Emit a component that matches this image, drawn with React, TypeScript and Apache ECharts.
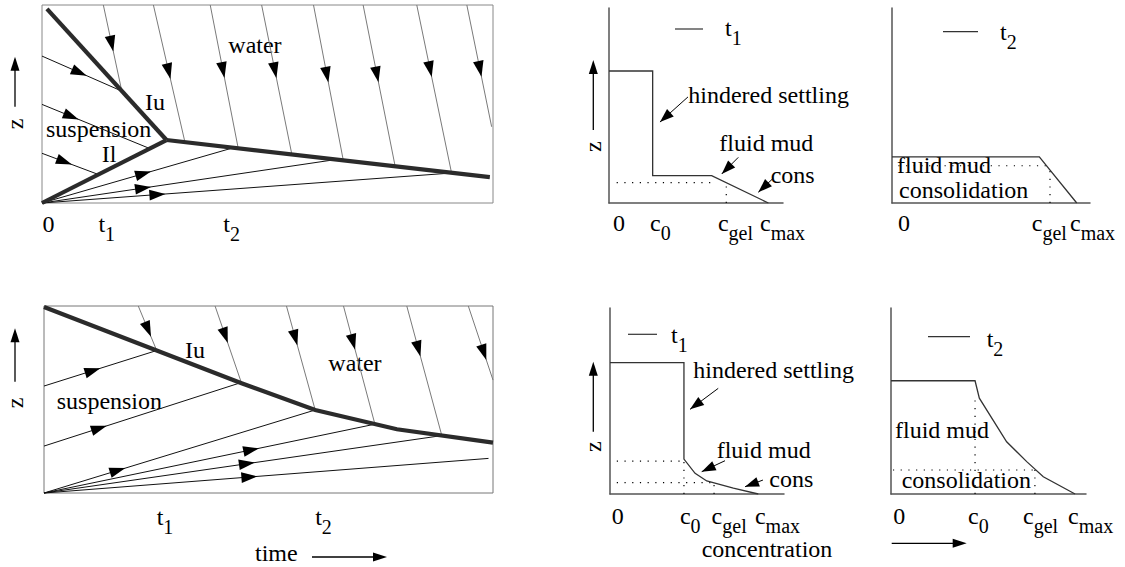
import React, { useEffect, useRef } from 'react';
import * as echarts from 'echarts';

const FONT = "'Liberation Serif', 'Times New Roman', serif";

// ---------- Panel A (top-left): time (0-100) vs z (0-100) ----------
const aUpperInterface = [[1.1, 98.0], [27.6, 31.8]];
const aLowerInterface = [[0, 0], [27.6, 31.8]];
const aBedInterface = [[27.6, 31.8], [99.3, 13.1]];
// characteristics: [t0, z0, t1, z1, arrow position along line]
const aSuspension = [
  [0, 74.2, 17.7, 56.5, 0.56],
  [0, 49.8, 23.9, 27.5, 0.34],
  [0, 25.1, 12.5, 14.4, 0.53],
];
const aFan = [
  [0, 0, 42.4, 27.9, 0.57],
  [0, 0, 65.3, 22.0, 0.37],
  [0, 0, 91.2, 15.2, 0.3],
];
const aWater = [
  [13.6, 100, 17.7, 56.5, 0.54],
  [24.7, 100, 31.7, 30.7, 0.54],
  [37.3, 100, 43.5, 27.7, 0.51],
  [48.7, 100, 55.4, 24.55, 0.49],
  [60.2, 100, 66.8, 21.6, 0.5],
  [71.2, 100, 78.3, 18.6, 0.48],
  [83.1, 100, 90.8, 15.3, 0.43],
  [94.2, 100, 99.7, 38.5, 0.59],
];
const aTicks = [0.1, 12.5, 40.2];
const aTickLabels = [['0', ''], ['t', '1'], ['t', '2']];

// ---------- Panel B (bottom-left) ----------
const bInterface = [[0, 99.5], [44.0, 58.7], [60.4, 44.4], [78.6, 34.1], [100, 26.9]];
const bSuspension = [
  [0, 57.2, 25.1, 76.2, 0.5],
  [0, 25.1, 43.7, 58.9, 0.32],
];
const bFan = [
  [0, 0, 60.4, 44.4, 0.3],
  [0, 0, 73.7, 36.8, 0.65],
  [0, 0, 88.6, 30.7, 0.53],
  [0, 0, 99.0, 18.5, 0.48],
];
const bWater = [
  [21.0, 100, 25.1, 76.2, 0.69],
  [38.1, 100, 44.0, 58.7, 0.48],
  [54.0, 100, 60.4, 44.4, 0.38],
  [66.7, 100, 73.7, 36.8, 0.37],
  [80.8, 100, 88.6, 30.7, 0.39],
  [94.5, 100, 100, 60.4, 0.73],
];
const bTicks = [25.1, 60.4];
const bTickLabels = [['t', '1'], ['t', '2']];

// ---------- Panel C (top, t1 profile): concentration vs z ----------
const cProfile = [[0, 67.7], [25.1, 67.7], [25.1, 14.0], [59.0, 14.0], [91.6, 0]];
const cDotted = [[4.4, 10.4, 58.6, 10.4, 0], [67.4, 0, 67.4, 10.4, 0]];
const cPointers = [
  [45.4, 54.4, 29.3, 41.5, 1],
  [74.3, 23.4, 64.8, 14.9, 1],
  [94.4, 12.7, 85.8, 5.5, 1],
];
const cTicks = [2.3, 23.6, 62.6, 86.8];
const cTickLabels = [['0', ''], ['c', '0'], ['c', 'gel'], ['c', 'max']];

// ---------- Panel D (top, t2 profile) ----------
const dProfile = [[0, 23.7], [74.4, 23.7], [93.3, 0]];
const dDotted = [[3.2, 19.1, 79.8, 19.1, 0], [79.8, 0, 79.8, 19.1, 0]];
const dTicks = [3.0, 70.6, 89.9];
const dTickLabels = [['0', ''], ['c', 'gel'], ['c', 'max']];

// ---------- Panel E (bottom, t1 profile) ----------
const eProfile = [[0, 70.6], [42.5, 70.6], [42.5, 18.8], [48.9, 11.1], [55.6, 7.0], [70.9, 3.1], [85.2, 0]];
const eDotted = [
  [3.9, 17.7, 42.5, 17.7, 0],
  [3.9, 6.1, 59.5, 6.1, 0],
  [42.5, 0, 42.5, 17.7, 0],
  [59.8, 0, 59.8, 6.1, 0],
];
const ePointers = [
  [62.2, 56.8, 46.0, 45.5, 1],
  [66.1, 17.9, 52.7, 12.0, 1],
  [87.9, 7.5, 77.6, 3.9, 1],
];
const eTicks = [1.0, 40.2, 58.4, 83.3];
const eTickLabels = [['0', ''], ['c', '0'], ['c', 'gel'], ['c', 'max']];

// ---------- Panel F (bottom, t2 profile) ----------
const fProfile = [[0, 60.9], [43.1, 60.9], [45.3, 51.5], [59.3, 28.1], [69.6, 17.4], [78.1, 9.3], [94.4, 0]];
const fDotted = [
  [43.1, 0, 43.1, 51.5, 0],
  [1.0, 12.9, 73.8, 12.9, 0],
  [73.8, 0, 73.8, 12.9, 0],
];
const fTicks = [1.2, 39.5, 67.7, 90.8];
const fTickLabels = [['0', ''], ['c', '0'], ['c', 'gel'], ['c', 'max']];

const MAIN = 24;
const SUB = 20;
const LH = 32;
const RICH: any = {
  m: { fontFamily: FONT, fontSize: MAIN, lineHeight: LH, verticalAlign: 'top', color: '#000' },
  s: { fontFamily: FONT, fontSize: SUB, lineHeight: LH, verticalAlign: 'bottom', color: '#000' },
};
const richText = (m: string, s: string) => (s ? `{m|${m}}{s|${s}}` : `{m|${m}}`);

function segRenderer(color: string, width: number, dash: number[] | null, head = 16, half = 5.3) {
  return (params: any, api: any) => {
    const p0 = api.coord([api.value(0), api.value(1)]);
    const p1 = api.coord([api.value(2), api.value(3)]);
    const f = api.value(4);
    const children: any[] = [
      {
        type: 'line',
        shape: { x1: p0[0], y1: p0[1], x2: p1[0], y2: p1[1] },
        style: { stroke: color, lineWidth: width, lineDash: dash || undefined, fill: null },
      },
    ];
    if (f > 0) {
      const dx = p1[0] - p0[0];
      const dy = p1[1] - p0[1];
      const L = Math.hypot(dx, dy) || 1;
      const ux = dx / L;
      const uy = dy / L;
      const tx = p0[0] + dx * f;
      const ty = p0[1] + dy * f;
      const bx = tx - ux * head;
      const by = ty - uy * head;
      children.push({
        type: 'polygon',
        shape: { points: [[tx, ty], [bx - uy * half, by + ux * half], [bx + uy * half, by - ux * half]] },
        style: { fill: '#000' },
      });
    }
    return { type: 'group', children };
  };
}

function segSeries(idx: number, data: number[][], color: string, width: number, dash: number[] | null, head?: number, half?: number) {
  return {
    type: 'custom',
    xAxisIndex: idx,
    yAxisIndex: idx,
    dimensions: ['x0', 'y0', 'x1', 'y1', 'f'],
    encode: { x: [0, 2], y: [1, 3] },
    data,
    renderItem: segRenderer(color, width, dash, head, half),
    silent: true,
    z: 2,
  };
}

function lineSeries(idx: number, data: number[][], color: string, width: number) {
  return {
    type: 'line',
    xAxisIndex: idx,
    yAxisIndex: idx,
    data,
    symbol: 'none',
    lineStyle: { color, width, join: 'miter', cap: 'butt' },
    silent: true,
    z: 3,
  };
}

function axisLabel(ticks: number[], labels: string[][], margin: number) {
  return {
    show: true,
    customValues: ticks,
    align: 'left',
    verticalAlign: 'top',
    margin,
    showMinLabel: true,
    showMaxLabel: true,
    formatter: (v: number) => {
      let best = 0;
      ticks.forEach((t, i) => {
        if (Math.abs(t - v) < Math.abs(ticks[best] - v)) best = i;
      });
      return richText(labels[best][0], labels[best][1]);
    },
    rich: RICH,
  };
}

function xAxisDef(idx: number, ticks: number[], labels: string[][], margin: number, showLine: boolean) {
  return {
    gridIndex: idx,
    type: 'value',
    min: 0,
    max: 100,
    axisLine: { show: showLine, onZero: false, lineStyle: { color: '#555', width: 1.5 } },
    axisTick: { show: false },
    splitLine: { show: false },
    axisLabel: axisLabel(ticks, labels, margin),
  };
}

function yAxisDef(idx: number, showLine: boolean) {
  return {
    gridIndex: idx,
    type: 'value',
    min: 0,
    max: 100,
    axisLine: { show: showLine, onZero: false, lineStyle: { color: '#555', width: 1.5 } },
    axisTick: { show: false },
    splitLine: { show: false },
    axisLabel: { show: false },
  };
}

// y is the text baseline
function txt(text: string, x: number, baseline: number, size = MAIN) {
  return {
    type: 'text',
    x,
    y: baseline - 0.3375 * size,
    silent: true,
    style: { text, fontFamily: FONT, fontSize: size, fill: '#000', align: 'left', verticalAlign: 'middle' },
  };
}

// baseline of the main glyph
function richLabel(m: string, s: string, x: number, baseline: number) {
  return {
    type: 'text',
    x,
    y: baseline - (MAIN / 2 + 0.3375 * MAIN),
    silent: true,
    style: { text: richText(m, s), rich: RICH, align: 'left', verticalAlign: 'top' },
  };
}

function zLabel(x: number, y: number) {
  return {
    type: 'text',
    x,
    y,
    rotation: Math.PI / 2,
    silent: true,
    style: { text: 'z', fontFamily: FONT, fontSize: MAIN, fill: '#000', align: 'center', verticalAlign: 'middle' },
  };
}

function upArrow(x: number, yTop: number, yBottom: number) {
  return [
    { type: 'line', silent: true, shape: { x1: x, y1: yBottom, x2: x, y2: yTop + 8 }, style: { stroke: '#000', lineWidth: 1.3 } },
    { type: 'polygon', silent: true, shape: { points: [[x, yTop], [x - 4.5, yTop + 14], [x + 4.5, yTop + 14]] }, style: { fill: '#000' } },
  ];
}

function rightArrow(x0: number, x1: number, y: number) {
  return [
    { type: 'line', silent: true, shape: { x1: x0, y1: y, x2: x1 - 8, y2: y }, style: { stroke: '#000', lineWidth: 1.3 } },
    { type: 'polygon', silent: true, shape: { points: [[x1, y], [x1 - 14, y - 4.5], [x1 - 14, y + 4.5]] }, style: { fill: '#000' } },
  ];
}

function legendLine(x0: number, x1: number, y: number) {
  return { type: 'line', silent: true, shape: { x1: x0, y1: y, x2: x1, y2: y }, style: { stroke: '#333', lineWidth: 1.2 } };
}

export default function App() {
  const ref = useRef<HTMLDivElement>(null);

  useEffect(() => {
    if (!ref.current) return;
    const chart = echarts.init(ref.current, undefined, { renderer: 'svg' });
    const THICK = '#2b2b2b';
    const WATER = '#7a7a7a';
    const PROFILE = '#333';

    const option: any = {
      animation: false,
      backgroundColor: '#fff',
      textStyle: { fontFamily: FONT },
      grid: [
        { left: 42, top: 5, width: 451, height: 198, show: true, borderColor: '#888', borderWidth: 1, backgroundColor: 'transparent' },
        { left: 44, top: 306, width: 449, height: 187, show: true, borderColor: '#777', borderWidth: 1, backgroundColor: 'transparent' },
        { left: 609, top: 8, width: 174, height: 195 },
        { left: 892, top: 8, width: 198, height: 195 },
        { left: 610, top: 308, width: 174, height: 186 },
        { left: 891, top: 308, width: 195, height: 186 },
      ],
      xAxis: [
        xAxisDef(0, aTicks, aTickLabels, 8.5, false),
        xAxisDef(1, bTicks, bTickLabels, 11.5, false),
        xAxisDef(2, cTicks, cTickLabels, 7.5, true),
        xAxisDef(3, dTicks, dTickLabels, 7.5, true),
        xAxisDef(4, eTicks, eTickLabels, 9.5, true),
        xAxisDef(5, fTicks, fTickLabels, 9.5, true),
      ],
      yAxis: [
        yAxisDef(0, false),
        yAxisDef(1, false),
        yAxisDef(2, true),
        yAxisDef(3, true),
        yAxisDef(4, true),
        yAxisDef(5, true),
      ],
      series: [
        // panel A
        segSeries(0, aWater, WATER, 1, null),
        segSeries(0, aSuspension, '#111', 1, null),
        segSeries(0, aFan, '#111', 1, null),
        lineSeries(0, aUpperInterface, THICK, 4.2),
        lineSeries(0, aLowerInterface, THICK, 4.2),
        lineSeries(0, aBedInterface, THICK, 4.2),
        // panel B
        segSeries(1, bWater, WATER, 1, null),
        segSeries(1, bSuspension, '#111', 1, null),
        segSeries(1, bFan, '#111', 1, null),
        lineSeries(1, bInterface, THICK, 4.2),
        // panel C
        lineSeries(2, cProfile, PROFILE, 1.3),
        segSeries(2, cDotted, '#000', 1.2, [1.2, 6.5]),
        segSeries(2, cPointers, '#000', 1, null, 14, 5),
        // panel D
        lineSeries(3, dProfile, PROFILE, 1.3),
        segSeries(3, dDotted, '#000', 1.2, [1.2, 6.5]),
        // panel E
        lineSeries(4, eProfile, PROFILE, 1.3),
        segSeries(4, eDotted, '#000', 1.2, [1.2, 6.5]),
        segSeries(4, ePointers, '#000', 1, null, 14, 5),
        // panel F
        lineSeries(5, fProfile, PROFILE, 1.3),
        segSeries(5, fDotted, '#000', 1.2, [1.2, 6.5]),
      ],
      graphic: [
        // panel A annotations
        zLabel(15, 124),
        ...upArrow(15, 56.7, 106.7),
        txt('water', 228.3, 53.4),
        txt('Iu', 145, 110),
        txt('suspension', 46, 137.2),
        txt('Il', 101.7, 162.5),
        // panel B annotations
        zLabel(15, 403),
        ...upArrow(15, 328.3, 381.7),
        txt('Iu', 185, 358.4),
        txt('water', 328.3, 371.4),
        txt('suspension', 56.7, 409.4),
        txt('time', 255, 561.4),
        ...rightArrow(312, 387, 557),
        // panel C
        zLabel(593.3, 146.7),
        ...upArrow(593.3, 60, 130),
        legendLine(675, 703, 29),
        richLabel('t', '1', 725, 36),
        txt('hindered settling', 688.3, 103.4),
        txt('fluid mud', 719.3, 150.7),
        txt('cons', 770.7, 182.7),
        // panel D
        legendLine(943, 978, 31.7),
        richLabel('t', '2', 1000, 40),
        txt('fluid mud', 897, 173.4),
        txt('consolidation', 899, 197.7),
        // panel E
        zLabel(593.3, 446.7),
        ...upArrow(593.3, 361.7, 431.7),
        legendLine(628, 657, 334.3),
        richLabel('t', '1', 671, 343.4),
        txt('hindered settling', 693.3, 378.4),
        txt('fluid mud', 716.7, 458.4),
        txt('cons', 769.3, 487.4),
        txt('concentration', 701.7, 557.5),
        // panel F
        legendLine(928, 970, 336.7),
        richLabel('t', '2', 986.7, 346.7),
        txt('fluid mud', 895, 438.4),
        txt('consolidation', 901.7, 488.4),
        ...rightArrow(891.7, 966.7, 543.3),
      ],
    };

    chart.setOption(option);
    return () => chart.dispose();
  }, []);

  return (
    <div
      ref={ref}
      style={{ position: 'fixed', left: 0, top: 0, width: 1125, height: 567, background: '#fff' }}
    />
  );
}
